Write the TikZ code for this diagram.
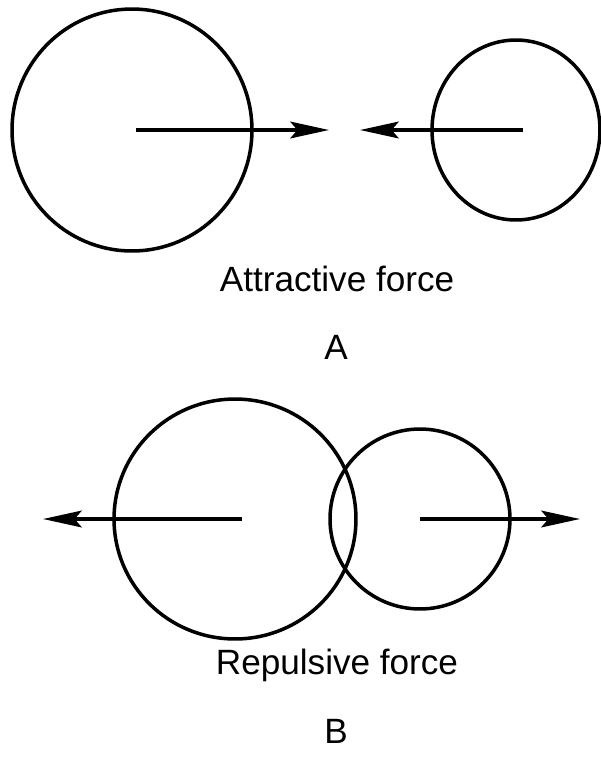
\documentclass[tikz,border=0pt]{standalone}
\usepackage{fontspec}
\setmainfont{Liberation Sans}
\usetikzlibrary{arrows.meta,shapes.geometric}

\begin{document}
\begin{tikzpicture}[x=0.02cm, y=-0.02cm,
    ball/.style={draw, ellipse, line width=2pt, inner sep=0pt},
    force/.style={line width=2pt, -{Stealth[length=22pt, width=9.5pt, inset=4pt]}},
    caption/.style={font=\fontsize{20}{24}\selectfont, inner sep=0pt}]
    \useasboundingbox (0,0) rectangle (601,769);

    % Attractive pair
    \node[ball, minimum width=4.8cm, minimum height=4.84cm] (a1) at (132,130) {};
    \node[ball, minimum width=3.36cm, minimum height=3.6cm] (a2) at (516,130) {};
    \coordinate (a1tip) at (329,130);
    \coordinate (a2tip) at (360,130);
    \draw[force] ([xshift=2]a1.center) -- (a1tip);
    \draw[force] ([xshift=4]a2.center) -- (a2tip);
    \node[caption] (atext) at (337,279) {Attractive force};
    \node[caption] (alabel) at (336,347) {A};

    % Repulsive pair
    \node[ball, minimum width=4.84cm, minimum height=4.8cm] (b1) at (235,519) {};
    \node[ball, minimum width=3.6cm, minimum height=3.6cm] (b2) at (420,519) {};
    \coordinate (b1tip) at (43,519);
    \coordinate (b2tip) at (580,519);
    \draw[force] ([xshift=4]b1.center) -- (b1tip);
    \draw[force] (b2.center) -- (b2tip);
    \node[caption] (btext) at (337,665) {Repulsive force};
    \node[caption] (blabel) at (336,731) {B};
\end{tikzpicture}
\end{document}
